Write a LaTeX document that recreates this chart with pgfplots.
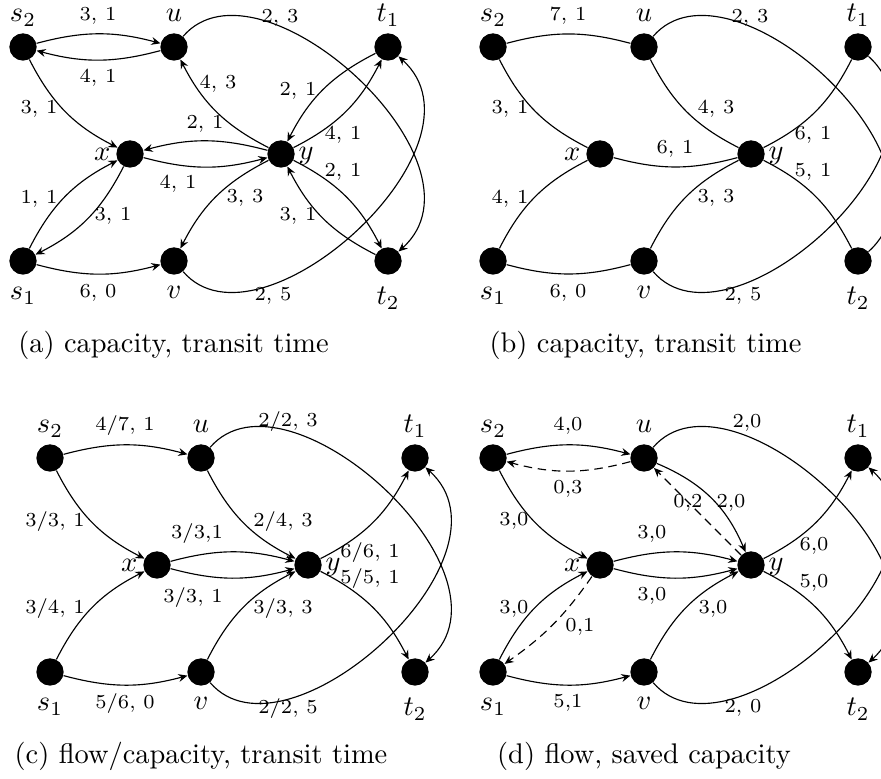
\documentclass[border=0pt]{standalone}
\usepackage{pgfplots}
\pgfplotsset{compat=1.18}
\usetikzlibrary{arrows.meta}
\begin{document}
\begin{tikzpicture}[>={Stealth[length=3.2pt,width=2.8pt,inset=1.1pt]},
  el/.style={font=\scriptsize, anchor=base, inner sep=0pt},
  nl/.style={anchor=base, inner sep=0pt},
  nd/.style={circle, inner sep=0pt, minimum size=9.5pt},
  dsh/.style={dash pattern=on 3pt off 2pt}]
\begin{axis}[at={(0,0)}, anchor=south west, x=0.352pt, y=0.352pt,
  xmin=0, xmax=881, ymin=0, ymax=778, hide axis, clip=true]
% vertices of the four networks
\addplot[only marks, mark=*, mark size=4.6pt, black, mark options={fill=black}] coordinates {
 (23,731) (174,731) (388,731) (130,624) (281,624) (23,517) (174,517) (388,517)
 (493,731) (644,731) (858,731) (600,624) (751,624) (493,517) (644,517) (858,517)
 (50,320) (201,320) (415,320) (157,213) (308,213) (50,106) (201,106) (415,106)
 (493,320) (644,320) (858,320) (600,213) (751,213) (493,106) (644,106) (858,106)
};
% anchors for edges
\node[nd] (aS2) at (axis cs:23,731) {}; \node[nd] (aU) at (axis cs:174,731) {}; \node[nd] (aT1) at (axis cs:388,731) {};
\node[nd] (aX) at (axis cs:130,624) {}; \node[nd] (aY) at (axis cs:281,624) {};
\node[nd] (aS1) at (axis cs:23,517) {}; \node[nd] (aV) at (axis cs:174,517) {}; \node[nd] (aT2) at (axis cs:388,517) {};
\node[nd] (bS2) at (axis cs:493,731) {}; \node[nd] (bU) at (axis cs:644,731) {}; \node[nd] (bT1) at (axis cs:858,731) {};
\node[nd] (bX) at (axis cs:600,624) {}; \node[nd] (bY) at (axis cs:751,624) {};
\node[nd] (bS1) at (axis cs:493,517) {}; \node[nd] (bV) at (axis cs:644,517) {}; \node[nd] (bT2) at (axis cs:858,517) {};
\node[nd] (cS2) at (axis cs:50,320) {}; \node[nd] (cU) at (axis cs:201,320) {}; \node[nd] (cT1) at (axis cs:415,320) {};
\node[nd] (cX) at (axis cs:157,213) {}; \node[nd] (cY) at (axis cs:308,213) {};
\node[nd] (cS1) at (axis cs:50,106) {}; \node[nd] (cV) at (axis cs:201,106) {}; \node[nd] (cT2) at (axis cs:415,106) {};
\node[nd] (dS2) at (axis cs:493,320) {}; \node[nd] (dU) at (axis cs:644,320) {}; \node[nd] (dT1) at (axis cs:858,320) {};
\node[nd] (dX) at (axis cs:600,213) {}; \node[nd] (dY) at (axis cs:751,213) {};
\node[nd] (dS1) at (axis cs:493,106) {}; \node[nd] (dV) at (axis cs:644,106) {}; \node[nd] (dT2) at (axis cs:858,106) {};
% vertex labels
\node[nl] at (axis cs:23,756) {$s_2$}; \node[nl] at (axis cs:174,756) {$u$}; \node[nl] at (axis cs:388,756) {$t_1$};
\node[nl] at (axis cs:23,478) {$s_1$}; \node[nl] at (axis cs:174,479) {$v$}; \node[nl] at (axis cs:388,473) {$t_2$};
\node[nl, anchor=base east] at (axis cs:111,617.5) {$x$}; \node[nl, anchor=base west] at (axis cs:298,618) {$y$};
\node[nl] at (axis cs:493,756) {$s_2$}; \node[nl] at (axis cs:644,756) {$u$}; \node[nl] at (axis cs:858,756) {$t_1$};
\node[nl] at (axis cs:493,478) {$s_1$}; \node[nl] at (axis cs:644,479) {$v$}; \node[nl] at (axis cs:858,473) {$t_2$};
\node[nl, anchor=base east] at (axis cs:581,617.5) {$x$}; \node[nl, anchor=base west] at (axis cs:768,618) {$y$};
\node[nl] at (axis cs:50,345) {$s_2$}; \node[nl] at (axis cs:201,345) {$u$}; \node[nl] at (axis cs:415,345) {$t_1$};
\node[nl] at (axis cs:50,67) {$s_1$}; \node[nl] at (axis cs:201,68) {$v$}; \node[nl] at (axis cs:415,62) {$t_2$};
\node[nl, anchor=base east] at (axis cs:138,206.5) {$x$}; \node[nl, anchor=base west] at (axis cs:325,207) {$y$};
\node[nl] at (axis cs:493,345) {$s_2$}; \node[nl] at (axis cs:644,345) {$u$}; \node[nl] at (axis cs:858,345) {$t_1$};
\node[nl] at (axis cs:493,67) {$s_1$}; \node[nl] at (axis cs:644,68) {$v$}; \node[nl] at (axis cs:858,62) {$t_2$};
\node[nl, anchor=base east] at (axis cs:581,206.5) {$x$}; \node[nl, anchor=base west] at (axis cs:768,207) {$y$};
% ---------- (a) ----------
\draw[->] (aS2) to[bend left=15] (aU);
\draw[->] (aU) to[bend left=15] (aS2);
\draw[->] (aS2) to[bend right=18] (aX);
\draw[->] (aS1) to[bend left=18] (aX);
\draw[->] (aX) to[bend left=18] (aS1);
\draw[->] (aS1) to[bend right=15] (aV);
\draw[->] (aX) to[bend right=15] (aY);
\draw[->] (aY) to[bend right=15] (aX);
\draw[->] (aY) to[bend left=18] (aU);
\draw[->] (aY) to[bend right=18] (aV);
\draw[->] (aY) to[bend right=18] (aT1);
\draw[->] (aT1) to[bend right=18] (aY);
\draw[->] (aY) to[bend left=18] (aT2);
\draw[->] (aT2) to[bend left=18] (aY);
\draw[->] (aU) .. controls (axis cs:259,830) and (axis cs:497,615) .. (aT2);
\draw[->] (aV) .. controls (axis cs:259,418) and (axis cs:497,633) .. (aT1);
\node[el] at (axis cs:98,757) {3, 1};
\node[el] at (axis cs:98,695) {4, 1};
\node[el] at (axis cs:39,664) {3, 1};
\node[el] at (axis cs:205,649) {2, 1};
\node[el] at (axis cs:218,689) {4, 3};
\node[el] at (axis cs:298,682) {2, 1};
\node[el] at (axis cs:343,638) {4, 1};
\node[el] at (axis cs:343,601) {2, 1};
\node[el] at (axis cs:178,589) {4, 1};
\node[el] at (axis cs:39,574) {1, 1};
\node[el] at (axis cs:113,557) {3, 1};
\node[el] at (axis cs:245,575) {3, 3};
\node[el] at (axis cs:298,557) {3, 1};
\node[el] at (axis cs:98,480) {6, 0};
\node[el] at (axis cs:273,477) {2, 5};
\node[el] at (axis cs:280,755) {2, 3};
% ---------- (b) ----------
\draw (bS2) to[bend left=15] (bU);
\draw (bS2) to[bend right=18] (bX);
\draw (bS1) to[bend left=18] (bX);
\draw (bS1) to[bend right=15] (bV);
\draw (bX) to[bend right=15] (bY);
\draw (bU) to[bend right=18] (bY);
\draw (bV) to[bend left=18] (bY);
\draw (bY) to[bend right=18] (bT1);
\draw (bY) to[bend left=18] (bT2);
\draw (bU) .. controls (axis cs:729,830) and (axis cs:967,615) .. (bT2);
\draw (bV) .. controls (axis cs:729,418) and (axis cs:967,633) .. (bT1);
\node[el] at (axis cs:568,757) {7, 1};
\node[el] at (axis cs:750,755) {2, 3};
\node[el] at (axis cs:510,664) {3, 1};
\node[el] at (axis cs:716,664) {4, 3};
\node[el] at (axis cs:675,624) {6, 1};
\node[el] at (axis cs:813,638) {6, 1};
\node[el] at (axis cs:813,601) {5, 1};
\node[el] at (axis cs:510,574) {4, 1};
\node[el] at (axis cs:716,575) {3, 3};
\node[el] at (axis cs:568,480) {6, 0};
\node[el] at (axis cs:743,477) {2, 5};
% ---------- (c) ----------
\draw[->] (cS2) to[bend left=15] (cU);
\draw[->] (cS2) to[bend right=18] (cX);
\draw[->] (cS1) to[bend left=18] (cX);
\draw[->] (cS1) to[bend right=15] (cV);
\draw[->] (cX) to[bend left=15] (cY);
\draw[->] (cX) to[bend right=15] (cY);
\draw[->] (cU) to[bend right=18] (cY);
\draw[->] (cV) to[bend left=18] (cY);
\draw[->] (cY) to[bend right=18] (cT1);
\draw[->] (cY) to[bend left=18] (cT2);
\draw[->] (cU) .. controls (axis cs:286,419) and (axis cs:524,204) .. (cT2);
\draw[->] (cV) .. controls (axis cs:286,7) and (axis cs:524,222) .. (cT1);
\node[el] at (axis cs:125,347) {4/7, 1};
\node[el] at (axis cs:288,351) {2/2, 3};
\node[el] at (axis cs:55,251) {3/3, 1};
\node[el] at (axis cs:283,251) {2/4, 3};
\node[el] at (axis cs:197,239) {3/3,1};
\node[el] at (axis cs:370,220) {6/6, 1};
\node[el] at (axis cs:370,194) {5/5, 1};
\node[el] at (axis cs:193,175) {3/3, 1};
\node[el] at (axis cs:55,164) {3/4, 1};
\node[el] at (axis cs:283,164) {3/3, 3};
\node[el] at (axis cs:125,69) {5/6, 0};
\node[el] at (axis cs:288,64) {2/2, 5};
% ---------- (d) ----------
\draw[->] (dS2) to[bend left=15] (dU);
\draw[->, dsh] (dU) to[bend left=15] (dS2);
\draw[->] (dS2) to[bend right=18] (dX);
\draw[->] (dS1) to[bend left=18] (dX);
\draw[->, dsh] (dX) to[bend left=10] (dS1);
\draw[->] (dS1) to[bend right=15] (dV);
\draw[->] (dX) to[bend left=15] (dY);
\draw[->] (dX) to[bend right=15] (dY);
\draw[->] (dU) to[bend left=22] (dY);
\draw[->, dsh] (dY) -- (dU);
\draw[->] (dV) to[bend left=18] (dY);
\draw[->] (dY) to[bend right=18] (dT1);
\draw[->] (dY) to[bend left=18] (dT2);
\draw[->] (dU) .. controls (axis cs:729,419) and (axis cs:967,204) .. (dT2);
\draw[->] (dV) .. controls (axis cs:729,7) and (axis cs:967,222) .. (dT1);
\node[el] at (axis cs:568,347) {4,0};
\node[el] at (axis cs:747,350) {2,0};
\node[el] at (axis cs:568,284) {0,3};
\node[el] at (axis cs:514,252) {3,0};
\node[el] at (axis cs:688,270) {0,2};
\node[el] at (axis cs:731,270) {2,0};
\node[el] at (axis cs:652,239) {3,0};
\node[el] at (axis cs:814,227) {6,0};
\node[el] at (axis cs:814,190) {5,0};
\node[el] at (axis cs:652,177) {3,0};
\node[el] at (axis cs:514,164) {3,0};
\node[el] at (axis cs:713,164) {3,0};
\node[el] at (axis cs:580,146) {0,1};
\node[el] at (axis cs:568,70) {5,1};
\node[el] at (axis cs:743,65) {2, 0};
% captions
\node[nl] at (axis cs:173.5,425) {(a) capacity, transit time};
\node[nl] at (axis cs:645.5,425) {(b) capacity, transit time};
\node[nl] at (axis cs:201,14) {(c) flow/capacity, transit time};
\node[nl] at (axis cs:644,14) {(d) flow, saved capacity};
\end{axis}
\pgfresetboundingbox
\path[use as bounding box] (0,0) rectangle (310.112pt,273.856pt);
\end{tikzpicture}
\end{document}
